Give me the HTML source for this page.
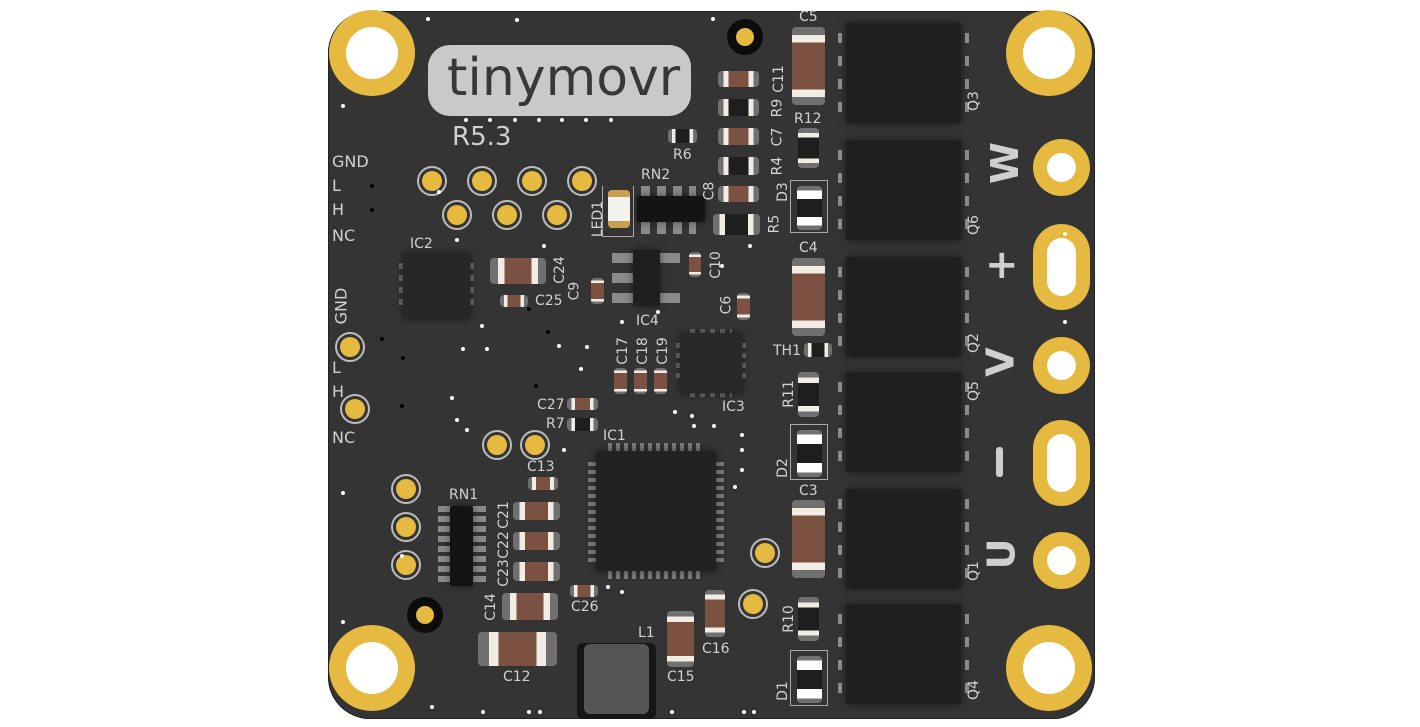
<!DOCTYPE html>
<html><head><meta charset="utf-8"><style>
html,body{margin:0;padding:0;background:#fff;width:1420px;height:727px;overflow:hidden}
#b{position:absolute;left:328px;top:11px;width:767px;height:708px;background:#343434;border-radius:42px;overflow:hidden;box-shadow:inset 0 0 0 1px #222}
.a{position:absolute;box-sizing:border-box}
.t{position:absolute;color:#d2d2d2;font-family:"DejaVu Sans","Liberation Sans",sans-serif;font-size:14px;line-height:1;white-space:nowrap}
.r90{transform:rotate(-90deg);transform-origin:center}
.mh{position:absolute;width:86px;height:86px;border-radius:50%;background:#e6b940;box-sizing:border-box}
.mh::after{content:"";position:absolute;left:17px;top:17px;width:52px;height:52px;border-radius:50%;background:#fff}
.gp{position:absolute;width:30px;height:30px;border-radius:50%;border:2px solid #bdbdbd;box-sizing:border-box;background:#343434}
.gp::after{content:"";position:absolute;left:3px;top:3px;width:20px;height:20px;border-radius:50%;background:#e6b940}
.hc{position:absolute;border-radius:4px;background:linear-gradient(to right,#707070 0 14%,#f1ede4 14% 26%,#7b5242 26% 74%,#f1ede4 74% 86%,#707070 86%)}
.hr{position:absolute;border-radius:4px;background:linear-gradient(to right,#707070 0 14%,#f1ede4 14% 26%,#1e1e1e 26% 74%,#f1ede4 74% 86%,#707070 86%)}
.vc{position:absolute;border-radius:4px;background:linear-gradient(to bottom,#707070 0 10%,#f1ede4 10% 20%,#7b5242 20% 80%,#f1ede4 80% 90%,#707070 90%)}
.vr{position:absolute;border-radius:4px;background:linear-gradient(to bottom,#707070 0 12%,#f1ede4 12% 24%,#1e1e1e 24% 76%,#f1ede4 76% 88%,#707070 88%)}
.q{position:absolute;background:#1f1f1f;border-radius:2px;box-shadow:0 0 8px rgba(0,0,0,.5)}
.m::before,.m::after{content:"";position:absolute;top:10px;width:4px;height:80px;background:repeating-linear-gradient(to bottom,#8a8a8a 0 10px,transparent 10px 23px)}
.m::before{left:-8px}.m::after{right:-8px}
.d{position:absolute;width:4px;height:4px;border-radius:50%;background:#fff}
.k{position:absolute;width:4px;height:4px;border-radius:50%;background:#000}
.pin{position:absolute;background:#8a8a8a}
</style></head><body>
<div id="b"></div>
<div class="mh" style="left:329px;top:10px"></div>
<div class="mh" style="left:1006px;top:10px"></div>
<div class="mh" style="left:329px;top:625px"></div>
<div class="mh" style="left:1006px;top:625px"></div>
<div class="a" style="left:727px;top:19px;width:36px;height:36px;border-radius:50%;background:#0c0c0c"></div>
<div class="a" style="left:736px;top:28px;width:18px;height:18px;border-radius:50%;background:#e6b940"></div>
<div class="a" style="left:407px;top:597px;width:36px;height:36px;border-radius:50%;background:#0c0c0c"></div>
<div class="a" style="left:416px;top:606px;width:18px;height:18px;border-radius:50%;background:#e6b940"></div>
<div class="a" style="left:428px;top:45px;width:263px;height:71px;border-radius:22px;background:#c9c9c9"></div>
<div class="t" style="left:447px;top:52px;font-size:52px;color:#383838">tinymovr</div>
<div class="t" style="left:452px;top:124px;font-size:26px;color:#cfcfcf">R5.3</div>
<div class="t" style="left:332px;top:154px;font-size:16px">GND</div>
<div class="t" style="left:332px;top:178px;font-size:16px">L</div>
<div class="t" style="left:332px;top:202px;font-size:16px">H</div>
<div class="t" style="left:332px;top:228px;font-size:16px">NC</div>
<div class="t r90" style="left:323px;top:298px;font-size:16px">GND</div>
<div class="t" style="left:332px;top:360px;font-size:16px">L</div>
<div class="t" style="left:332px;top:384px;font-size:16px">H</div>
<div class="t" style="left:332px;top:430px;font-size:16px">NC</div>
<div class="gp" style="left:417px;top:166px"></div><div class="gp" style="left:467px;top:166px"></div>
<div class="gp" style="left:517px;top:166px"></div><div class="gp" style="left:567px;top:166px"></div>
<div class="gp" style="left:442px;top:200px"></div><div class="gp" style="left:492px;top:200px"></div>
<div class="gp" style="left:542px;top:200px"></div>
<div class="gp" style="left:335px;top:332px"></div><div class="gp" style="left:340px;top:394px"></div>
<div class="gp" style="left:482px;top:430px"></div><div class="gp" style="left:520px;top:430px"></div>
<div class="gp" style="left:391px;top:474px"></div><div class="gp" style="left:391px;top:512px"></div>
<div class="gp" style="left:391px;top:550px"></div>
<div class="gp" style="left:750px;top:538px"></div><div class="gp" style="left:738px;top:589px"></div>
<div class="pin" style="left:399px;top:263px;width:75px;height:45px;background:repeating-linear-gradient(to bottom,#666 0 6px,transparent 6px 12px)"></div>
<div class="q" style="left:403px;top:253px;width:67px;height:65px;background:#272727"></div>
<div class="t" style="left:410px;top:237px">IC2</div>
<div class="hc" style="left:490px;top:258px;width:56px;height:26px"></div>
<div class="t r90" style="left:546px;top:263px">C24</div>
<div class="hc" style="left:500px;top:295px;width:28px;height:12px"></div>
<div class="t" style="left:535px;top:294px">C25</div>
<div class="vc" style="left:591px;top:278px;width:13px;height:26px"></div>
<div class="t r90" style="left:565px;top:284px">C9</div>
<div class="pin" style="left:612px;top:253px;width:22px;height:10px"></div>
<div class="pin" style="left:612px;top:273px;width:22px;height:10px"></div>
<div class="pin" style="left:612px;top:293px;width:22px;height:10px"></div>
<div class="pin" style="left:659px;top:253px;width:21px;height:10px"></div>
<div class="pin" style="left:659px;top:293px;width:21px;height:10px"></div>
<div class="q" style="left:633px;top:250px;width:27px;height:56px"></div>
<div class="t" style="left:636px;top:314px">IC4</div>
<div class="vc" style="left:689px;top:252px;width:12px;height:25px"></div>
<div class="t r90" style="left:702px;top:258px">C10</div>
<div class="vc" style="left:737px;top:293px;width:13px;height:27px"></div>
<div class="t r90" style="left:717px;top:298px">C6</div>
<div class="a" style="left:602px;top:186px;width:32px;height:51px;border:1px solid #aaa;border-top:none"></div>
<div class="a" style="left:608px;top:190px;width:22px;height:38px;border-radius:4px;background:linear-gradient(to bottom,#c9a050 0 18%,#f4f2ec 18% 82%,#c9a050 82%)"></div>
<div class="t r90" style="left:580px;top:212px">LED1</div>
<div class="pin" style="left:641px;top:186px;width:55px;height:48px;background:repeating-linear-gradient(to right,#8a8a8a 0 9px,transparent 9px 16px)"></div>
<div class="q" style="left:637px;top:196px;width:68px;height:26px;background:#141414"></div>
<div class="t" style="left:641px;top:168px">RN2</div>
<div class="t r90" style="left:700px;top:184px">C8</div>
<div class="hr" style="left:668px;top:129px;width:29px;height:14px"></div>
<div class="t" style="left:673px;top:148px">R6</div>
<div class="hc" style="left:718px;top:71px;width:41px;height:16px"></div>
<div class="hr" style="left:718px;top:99px;width:41px;height:17px"></div>
<div class="hc" style="left:718px;top:128px;width:41px;height:17px"></div>
<div class="hr" style="left:718px;top:157px;width:41px;height:18px"></div>
<div class="hc" style="left:718px;top:186px;width:41px;height:16px"></div>
<div class="hr" style="left:713px;top:214px;width:47px;height:21px"></div>
<div class="t r90" style="left:765px;top:72px">C11</div>
<div class="t r90" style="left:768px;top:101px">R9</div>
<div class="t r90" style="left:768px;top:130px">C7</div>
<div class="t r90" style="left:768px;top:159px">R4</div>
<div class="t r90" style="left:765px;top:217px">R5</div>
<div class="vc" style="left:792px;top:27px;width:33px;height:78px"></div>
<div class="t" style="left:799px;top:10px">C5</div>
<div class="vr" style="left:798px;top:128px;width:21px;height:40px"></div>
<div class="t" style="left:794px;top:112px">R12</div>
<div class="a" style="left:790px;top:180px;width:38px;height:53px;border:1px solid #aaa"></div>
<div class="a" style="left:797px;top:186px;width:25px;height:44px;background:linear-gradient(to bottom,#707070 0 10%,#fff 10% 30%,#1e1e1e 30% 70%,#fff 70% 90%,#707070 90%);border-radius:4px"></div>
<div class="t r90" style="left:773px;top:185px">D3</div>
<div class="vc" style="left:792px;top:258px;width:33px;height:78px"></div>
<div class="t" style="left:799px;top:241px">C4</div>
<div class="hr" style="left:804px;top:343px;width:28px;height:14px"></div>
<div class="t" style="left:773px;top:344px">TH1</div>
<div class="vr" style="left:798px;top:372px;width:21px;height:45px"></div>
<div class="t r90" style="left:775px;top:387px">R11</div>
<div class="a" style="left:790px;top:424px;width:38px;height:56px;border:1px solid #aaa"></div>
<div class="a" style="left:797px;top:430px;width:25px;height:47px;background:linear-gradient(to bottom,#707070 0 10%,#fff 10% 30%,#1e1e1e 30% 70%,#fff 70% 90%,#707070 90%);border-radius:4px"></div>
<div class="t r90" style="left:773px;top:461px">D2</div>
<div class="vc" style="left:792px;top:500px;width:33px;height:78px"></div>
<div class="t" style="left:799px;top:484px">C3</div>
<div class="vr" style="left:798px;top:597px;width:21px;height:44px"></div>
<div class="t r90" style="left:775px;top:612px">R10</div>
<div class="a" style="left:790px;top:650px;width:38px;height:56px;border:1px solid #aaa"></div>
<div class="a" style="left:797px;top:656px;width:25px;height:47px;background:linear-gradient(to bottom,#707070 0 10%,#fff 10% 30%,#1e1e1e 30% 70%,#fff 70% 90%,#707070 90%);border-radius:4px"></div>
<div class="t r90" style="left:773px;top:684px">D1</div>
<div class="q m" style="left:846px;top:23px;width:115px;height:100px"></div>
<div class="q m" style="left:846px;top:140px;width:115px;height:100px"></div>
<div class="q m" style="left:846px;top:257px;width:115px;height:100px"></div>
<div class="q m" style="left:846px;top:372px;width:115px;height:100px"></div>
<div class="q m" style="left:846px;top:489px;width:115px;height:100px"></div>
<div class="q m" style="left:846px;top:604px;width:115px;height:100px"></div>
<div class="t r90" style="left:964px;top:94px">Q3</div>
<div class="t r90" style="left:964px;top:218px">Q6</div>
<div class="t r90" style="left:964px;top:336px">Q2</div>
<div class="t r90" style="left:964px;top:384px">Q5</div>
<div class="t r90" style="left:964px;top:564px">Q1</div>
<div class="t r90" style="left:964px;top:683px">Q4</div>
<div class="t r90" style="left:984px;top:144px;font-size:38px;font-weight:bold;color:#cfcfcf">W</div>
<div class="t" style="left:985px;top:245px;font-size:40px;font-weight:bold;color:#cfcfcf">+</div>
<div class="t r90" style="left:986px;top:343px;font-size:38px;font-weight:bold;color:#cfcfcf">V</div>
<div class="a" style="left:996px;top:447px;width:7px;height:30px;border-radius:3px;background:#cfcfcf"></div>
<div class="t r90" style="left:986px;top:535px;font-size:38px;font-weight:bold;color:#cfcfcf">U</div>
<div class="a" style="left:1033px;top:139px;width:57px;height:57px;border-radius:50%;background:#e6b940"></div>
<div class="a" style="left:1047px;top:153px;width:29px;height:29px;border-radius:50%;background:#fff"></div>
<div class="a" style="left:1033px;top:224px;width:57px;height:86px;border-radius:29px;background:#e6b940"></div>
<div class="a" style="left:1047px;top:238px;width:29px;height:58px;border-radius:15px;background:#fff"></div>
<div class="a" style="left:1033px;top:337px;width:57px;height:57px;border-radius:50%;background:#e6b940"></div>
<div class="a" style="left:1047px;top:351px;width:29px;height:29px;border-radius:50%;background:#fff"></div>
<div class="a" style="left:1033px;top:420px;width:57px;height:86px;border-radius:29px;background:#e6b940"></div>
<div class="a" style="left:1047px;top:434px;width:29px;height:58px;border-radius:15px;background:#fff"></div>
<div class="a" style="left:1033px;top:532px;width:57px;height:57px;border-radius:50%;background:#e6b940"></div>
<div class="a" style="left:1047px;top:546px;width:29px;height:29px;border-radius:50%;background:#fff"></div>
<div class="pin" style="left:676px;top:343px;width:70px;height:40px;background:repeating-linear-gradient(to bottom,#666 0 5px,transparent 5px 10px)"></div>
<div class="pin" style="left:690px;top:329px;width:42px;height:68px;background:repeating-linear-gradient(to right,#666 0 5px,transparent 5px 10px)"></div>
<div class="q" style="left:680px;top:333px;width:62px;height:60px;background:#282828"></div>
<div class="t" style="left:722px;top:400px">IC3</div>
<div class="vc" style="left:614px;top:368px;width:13px;height:26px"></div>
<div class="vc" style="left:634px;top:368px;width:13px;height:26px"></div>
<div class="vc" style="left:654px;top:368px;width:13px;height:26px"></div>
<div class="t r90" style="left:609px;top:344px">C17</div>
<div class="t r90" style="left:629px;top:344px">C18</div>
<div class="t r90" style="left:649px;top:344px">C19</div>
<div class="hc" style="left:567px;top:398px;width:31px;height:12px"></div>
<div class="hr" style="left:567px;top:418px;width:31px;height:13px"></div>
<div class="t" style="left:537px;top:398px">C27</div>
<div class="t" style="left:546px;top:417px">R7</div>
<div class="pin" style="left:588px;top:462px;width:136px;height:100px;background:repeating-linear-gradient(to bottom,#7a7a7a 0 4px,transparent 4px 8px)"></div>
<div class="pin" style="left:608px;top:443px;width:96px;height:136px;background:repeating-linear-gradient(to right,#7a7a7a 0 4px,transparent 4px 8px)"></div>
<div class="q" style="left:596px;top:451px;width:120px;height:120px;background:#222"></div>
<div class="t" style="left:603px;top:429px">IC1</div>
<div class="pin" style="left:438px;top:506px;width:48px;height:80px;background:repeating-linear-gradient(to bottom,#8a8a8a 0 6px,transparent 6px 10px)"></div>
<div class="q" style="left:450px;top:506px;width:23px;height:80px;background:#131313"></div>
<div class="t" style="left:449px;top:488px">RN1</div>
<div class="hc" style="left:528px;top:477px;width:30px;height:13px"></div>
<div class="t" style="left:527px;top:460px">C13</div>
<div class="hc" style="left:513px;top:502px;width:47px;height:18px"></div>
<div class="hc" style="left:513px;top:532px;width:47px;height:18px"></div>
<div class="hc" style="left:513px;top:562px;width:47px;height:19px"></div>
<div class="t r90" style="left:490px;top:508px">C21</div>
<div class="t r90" style="left:490px;top:538px">C22</div>
<div class="t r90" style="left:490px;top:566px">C23</div>
<div class="hc" style="left:502px;top:593px;width:56px;height:27px"></div>
<div class="t r90" style="left:477px;top:600px">C14</div>
<div class="hc" style="left:478px;top:632px;width:79px;height:34px"></div>
<div class="t" style="left:503px;top:670px">C12</div>
<div class="hc" style="left:570px;top:585px;width:28px;height:12px"></div>
<div class="t" style="left:571px;top:600px">C26</div>
<div class="a" style="left:577px;top:643px;width:79px;height:76px;border-radius:6px;background:#161616"></div>
<div class="a" style="left:584px;top:644px;width:65px;height:70px;border-radius:6px;background:#555"></div>
<div class="t" style="left:638px;top:626px">L1</div>
<div class="vc" style="left:667px;top:611px;width:27px;height:56px"></div>
<div class="t" style="left:667px;top:670px">C15</div>
<div class="vc" style="left:705px;top:590px;width:20px;height:47px"></div>
<div class="t" style="left:702px;top:642px">C16</div>
<div class="d" style="left:426px;top:17px"></div><div class="d" style="left:515px;top:18px"></div><div class="d" style="left:711px;top:17px"></div>
<div class="d" style="left:341px;top:104px"></div><div class="d" style="left:513px;top:118px"></div><div class="d" style="left:537px;top:118px"></div>
<div class="d" style="left:560px;top:118px"></div><div class="d" style="left:584px;top:118px"></div><div class="d" style="left:609px;top:118px"></div>
<div class="d" style="left:464px;top:118px"></div><div class="d" style="left:488px;top:118px"></div>
<div class="d" style="left:437px;top:190px"></div><div class="d" style="left:455px;top:238px"></div><div class="d" style="left:1063px;top:232px"></div><div class="d" style="left:1063px;top:320px"></div>
<div class="d" style="left:480px;top:324px"></div><div class="d" style="left:461px;top:347px"></div><div class="d" style="left:485px;top:347px"></div>
<div class="d" style="left:450px;top:396px"></div><div class="d" style="left:455px;top:418px"></div><div class="d" style="left:465px;top:428px"></div>
<div class="d" style="left:585px;top:345px"></div><div class="d" style="left:579px;top:367px"></div><div class="d" style="left:620px;top:320px"></div>
<div class="d" style="left:557px;top:344px"></div><div class="d" style="left:656px;top:310px"></div><div class="d" style="left:690px;top:414px"></div>
<div class="d" style="left:673px;top:410px"></div><div class="d" style="left:692px;top:424px"></div><div class="d" style="left:712px;top:424px"></div>
<div class="d" style="left:740px;top:433px"></div><div class="d" style="left:740px;top:448px"></div><div class="d" style="left:740px;top:468px"></div>
<div class="d" style="left:733px;top:485px"></div><div class="d" style="left:400px;top:554px"></div><div class="d" style="left:341px;top:491px"></div>
<div class="d" style="left:341px;top:620px"></div><div class="d" style="left:359px;top:680px"></div><div class="d" style="left:430px;top:705px"></div>
<div class="d" style="left:481px;top:710px"></div><div class="d" style="left:527px;top:710px"></div><div class="d" style="left:538px;top:710px"></div>
<div class="d" style="left:670px;top:710px"></div><div class="d" style="left:742px;top:710px"></div><div class="d" style="left:752px;top:710px"></div>
<div class="d" style="left:542px;top:244px"></div><div class="d" style="left:720px;top:264px"></div><div class="d" style="left:748px;top:244px"></div>
<div class="d" style="left:606px;top:585px"></div><div class="d" style="left:620px;top:590px"></div><div class="d" style="left:562px;top:448px"></div>
<div class="k" style="left:370px;top:184px"></div><div class="k" style="left:370px;top:208px"></div><div class="k" style="left:401px;top:356px"></div>
<div class="k" style="left:400px;top:404px"></div><div class="k" style="left:380px;top:337px"></div><div class="k" style="left:534px;top:384px"></div>
<div class="k" style="left:546px;top:330px"></div><div class="k" style="left:527px;top:307px"></div>
</body></html>
